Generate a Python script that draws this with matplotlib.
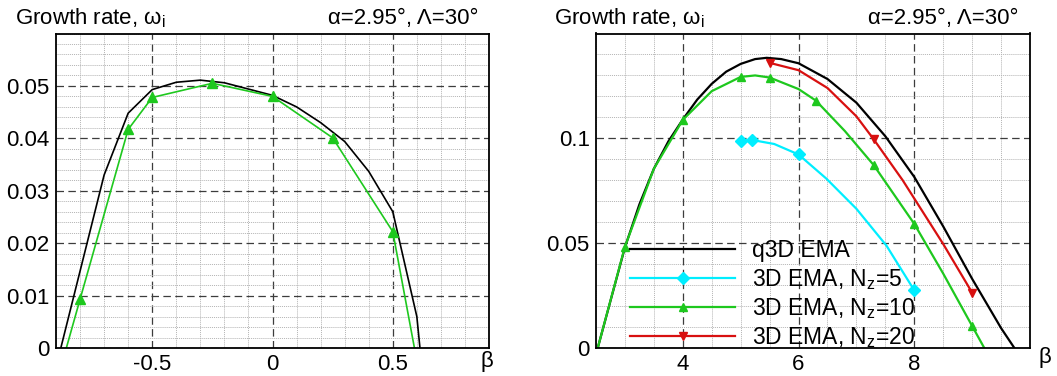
import numpy as np
import matplotlib.pyplot as plt
from matplotlib.ticker import MultipleLocator

plt.rcParams['font.family'] = ['Liberation Sans', 'DejaVu Sans']
plt.rcParams['mathtext.fontset'] = 'custom'
plt.rcParams['mathtext.rm'] = 'Liberation Sans'
plt.rcParams['mathtext.it'] = 'Liberation Sans:italic'

# left panel, beta around 0
beta_q3d_a = [-0.88, -0.7, -0.6, -0.5, -0.4, -0.3, -0.2, -0.1, 0.0, 0.1, 0.2, 0.3, 0.4, 0.5, 0.6, 0.613]
w_q3d_a = [0.0, 0.033, 0.0448, 0.0493, 0.0507, 0.0511, 0.0506, 0.0494, 0.0482, 0.0460, 0.0430, 0.0394, 0.0337, 0.0260, 0.006, 0.0]
beta_nz10_a = [-0.857, -0.8, -0.6, -0.5, -0.25, 0.0, 0.25, 0.5, 0.59]
w_nz10_a = [0.0, 0.0093, 0.0417, 0.0478, 0.0505, 0.0480, 0.0401, 0.0222, 0.0]
mark_nz10_a = [-0.8, -0.6, -0.5, -0.25, 0.0, 0.25, 0.5]

# right panel, beta 2.5..10
beta_q3d_b = [2.53, 3.0, 3.25, 3.5, 3.75, 4.0, 4.25, 4.5, 4.75, 5.0, 5.25, 5.45, 5.7, 6.0,
              6.5, 7.0, 7.5, 8.0, 8.5, 9.0, 9.5, 9.73]
w_q3d_b = [0.0, 0.048, 0.0685, 0.0855, 0.0985, 0.109, 0.1185, 0.1260, 0.1318, 0.1355, 0.1378,
           0.1384, 0.1378, 0.1358, 0.1283, 0.1170, 0.1010, 0.0816, 0.0580, 0.0330, 0.0095, 0.0]
beta_nz5 = [5.0, 5.2, 5.58, 6.0, 6.48, 7.0, 7.52, 8.0]
w_nz5 = [0.0988, 0.0992, 0.0973, 0.0923, 0.0808, 0.0664, 0.0488, 0.0275]
mark_nz5 = [5.0, 5.2, 6.0, 8.0]
beta_nz10 = [2.53, 3.0, 3.5, 4.0, 4.5, 5.0, 5.25, 5.5, 6.0, 6.3, 6.8, 7.3, 8.0, 8.5, 9.0, 9.21]
w_nz10 = [0.0, 0.0483, 0.0855, 0.1088, 0.1225, 0.1293, 0.1300, 0.1290, 0.1235, 0.118, 0.1035,
          0.0872, 0.0592, 0.0355, 0.0105, 0.0]
mark_nz10 = [3.0, 4.0, 5.0, 5.5, 6.3, 7.3, 8.0, 9.0]
beta_nz20 = [5.5, 6.0, 6.5, 7.0, 7.3, 7.8, 8.5, 9.0]
w_nz20 = [0.136, 0.1325, 0.1240, 0.1105, 0.0995, 0.080, 0.0496, 0.0264]
mark_nz20 = [5.5, 7.3, 9.0]

green = '#1ec81e'
cyan = '#00eeff'
red = '#d81010'
fs = 16


def style(ax, xmaj, xmin, ymaj, ymin):
    ax.xaxis.set_major_locator(MultipleLocator(xmaj))
    ax.xaxis.set_minor_locator(MultipleLocator(xmin))
    ax.yaxis.set_major_locator(MultipleLocator(ymaj))
    ax.yaxis.set_minor_locator(MultipleLocator(ymin))
    ax.grid(which='minor', color='#b4b4b4', lw=0.7, ls=(0, (1, 1)))
    ax.grid(which='major', color='#3c3c3c', lw=0.9, ls=(0, (6, 3.5)))
    ax.set_axisbelow(True)
    ax.tick_params(which='both', length=0, labelsize=fs)
    ax.tick_params(axis='y', pad=4.5)
    ax.tick_params(axis='x', pad=4)
    for s in ax.spines.values():
        s.set_linewidth(1.3)


def marks(beta, pts):
    return list(np.isin(np.round(beta, 3), np.round(pts, 3)))


fig = plt.figure(figsize=(10.57, 3.76), dpi=100)
ax1 = fig.add_axes([56 / 1057, 28 / 376, 433 / 1057, 314.5 / 376])
ax2 = fig.add_axes([596 / 1057, 28 / 376, 434 / 1057, 314.5 / 376])

ax1.plot(beta_q3d_a, w_q3d_a, color='black', lw=1.2)
ax1.plot(beta_nz10_a, w_nz10_a, color=green, lw=1.2, marker='^', ms=7,
         markevery=marks(beta_nz10_a, mark_nz10_a))
ax1.set_xlim(-0.9, 0.9)
ax1.set_ylim(0, 0.06)
style(ax1, 0.5, 0.1, 0.01, 0.002)
ax1.set_xticks([-0.5, 0, 0.5])
ax1.set_xticklabels(['-0.5', '0', '0.5'])
ax1.set_yticks([0, 0.01, 0.02, 0.03, 0.04, 0.05])
ax1.set_yticklabels(['0', '0.01', '0.02', '0.03', '0.04', '0.05'])

ax2.plot(beta_q3d_b, w_q3d_b, color='black', lw=1.6, label='q3D EMA')
ax2.plot(beta_nz5, w_nz5, color=cyan, lw=1.6, marker='D', ms=6,
         markevery=marks(beta_nz5, mark_nz5), label='3D EMA, N$_\\mathrm{z}$=5')
ax2.plot(beta_nz10, w_nz10, color=green, lw=1.6, marker='^', ms=6,
         markevery=marks(beta_nz10, mark_nz10), label='3D EMA, N$_\\mathrm{z}$=10')
ax2.plot(beta_nz20, w_nz20, color=red, lw=1.6, marker='v', ms=6,
         markevery=marks(beta_nz20, mark_nz20), label='3D EMA, N$_\\mathrm{z}$=20')
ax2.set_xlim(2.5, 10)
ax2.set_ylim(0, 0.15)
style(ax2, 2, 0.5, 0.05, 0.01)
ax2.set_xticks([4, 6, 8])
ax2.set_xticklabels(['4', '6', '8'])
ax2.set_yticks([0, 0.05, 0.1])
ax2.set_yticklabels(['0', '0.05', '0.1'])
ax2.legend(loc='lower left', bbox_to_anchor=(0.078, -0.005), frameon=False,
           fontsize=16.5, handlelength=4.6, handletextpad=0.75, labelspacing=0.18,
           borderpad=0, borderaxespad=0, numpoints=1)

for x0, x1 in [(15, 478), (554, 1018)]:
    fig.text(x0 / 1057, 1 - 24 / 376, 'Growth rate, ω$_\\mathrm{i}$', fontsize=fs,
             ha='left', va='baseline')
    fig.text(x1 / 1057, 1 - 24 / 376, 'α=2.95°, Λ=30°', fontsize=fs,
             ha='right', va='baseline')
fig.text(487 / 1057, 1 - 361 / 376, 'β', fontsize=fs, ha='center', va='center')
fig.text(1045 / 1057, 1 - 358 / 376, 'β', fontsize=fs, ha='center', va='center')

plt.savefig('out.png', dpi=100)
